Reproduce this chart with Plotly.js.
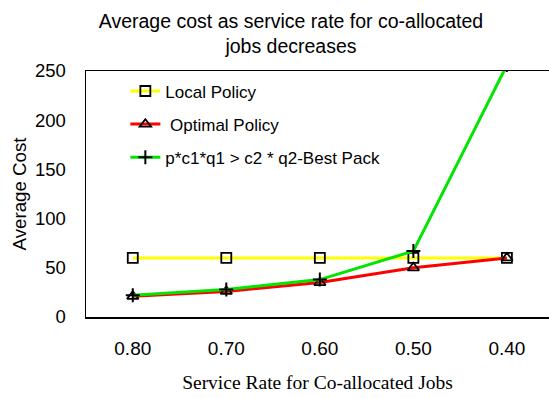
<!DOCTYPE html>
<html>
<head>
<meta charset="utf-8">
<script src="https://cdn.plot.ly/plotly-3.0.1.min.js"></script>
<style>html,body{margin:0;padding:0;background:#fff;}#chart{width:549px;height:398px;}</style>
</head>
<body>
<div id="chart"></div>
<script>
const categories = ["0.80", "0.70", "0.60", "0.50", "0.40"];
const localPolicy = [60, 60, 60, 60, 60];
const optimalPolicy = [21, 26, 35, 50, 60];
const bestPack = [22, 28, 38, 67, 256];
const seriesNames = ["Local Policy", " Optimal Policy", "p*c1*q1 > c2 * q2-Best Pack"];
const yTicks = [0, 50, 100, 150, 200, 250];

const traces = [
  {x: categories, y: localPolicy, name: seriesNames[0], mode: "lines+markers", legendgroup: "a",
   line: {color: "#ffff00", width: 3}, cliponaxis: true,
   marker: {symbol: "square-open", size: 10, color: "#000", line: {width: 1.8, color: "#000"}}},
  {x: categories, y: optimalPolicy, name: seriesNames[1], mode: "lines+markers", legendgroup: "b",
   line: {color: "#ff0000", width: 3}, cliponaxis: true,
   marker: {symbol: "triangle-up-open", size: 10, color: "#000", line: {width: 1.8, color: "#000"}}},
  {x: categories, y: bestPack, name: seriesNames[2], mode: "lines+markers", legendgroup: "c",
   line: {color: "#00e600", width: 3}, cliponaxis: true,
   marker: {symbol: "cross-thin-open", size: 10, color: "#000", line: {width: 2, color: "#000"}}}
];

const layout = {
  width: 549, height: 398,
  margin: {l: 86, r: 0, t: 71, b: 81},
  paper_bgcolor: "#fff", plot_bgcolor: "#fff",
  font: {family: "Liberation Sans, Arial, sans-serif", color: "#000"},
  title: {text: "Average cost as service rate for co-allocated<br>jobs decreases",
          font: {size: 19.5, family: "Liberation Sans, Arial, sans-serif", color: "#000"},
          x: 0.53, xanchor: "center", xref: "container",
          y: 0.93, yanchor: "bottom", yref: "container"},
  xaxis: {type: "category", range: [-0.5, 4.45], showgrid: false, zeroline: false,
          showline: true, linecolor: "#000", linewidth: 1.5, mirror: true,
          ticks: "", tickfont: {size: 19}, ticklabelstandoff: 14,
          title: {text: "Service Rate for Co-allocated Jobs", standoff: 17,
                  font: {family: "Liberation Serif, Times New Roman, serif", size: 19.5}}},
  yaxis: {range: [0, 250], tickvals: yTicks, showgrid: false, zeroline: false,
          showline: true, linecolor: "#000", linewidth: 1.5, mirror: false,
          ticks: "", tickfont: {size: 18.5}, ticklabelstandoff: 15,
          title: {text: "Average Cost", standoff: 3, font: {size: 18.7}}},
  showlegend: true,
  legend: {x: 0.085, y: 0.99, xanchor: "left", yanchor: "top", bgcolor: "rgba(0,0,0,0)",
           borderwidth: 0, font: {size: 17}, traceorder: "grouped", tracegroupgap: 8}
};

Plotly.newPlot("chart", traces, layout, {displayModeBar: false, staticPlot: true});
</script>
</body>
</html>
